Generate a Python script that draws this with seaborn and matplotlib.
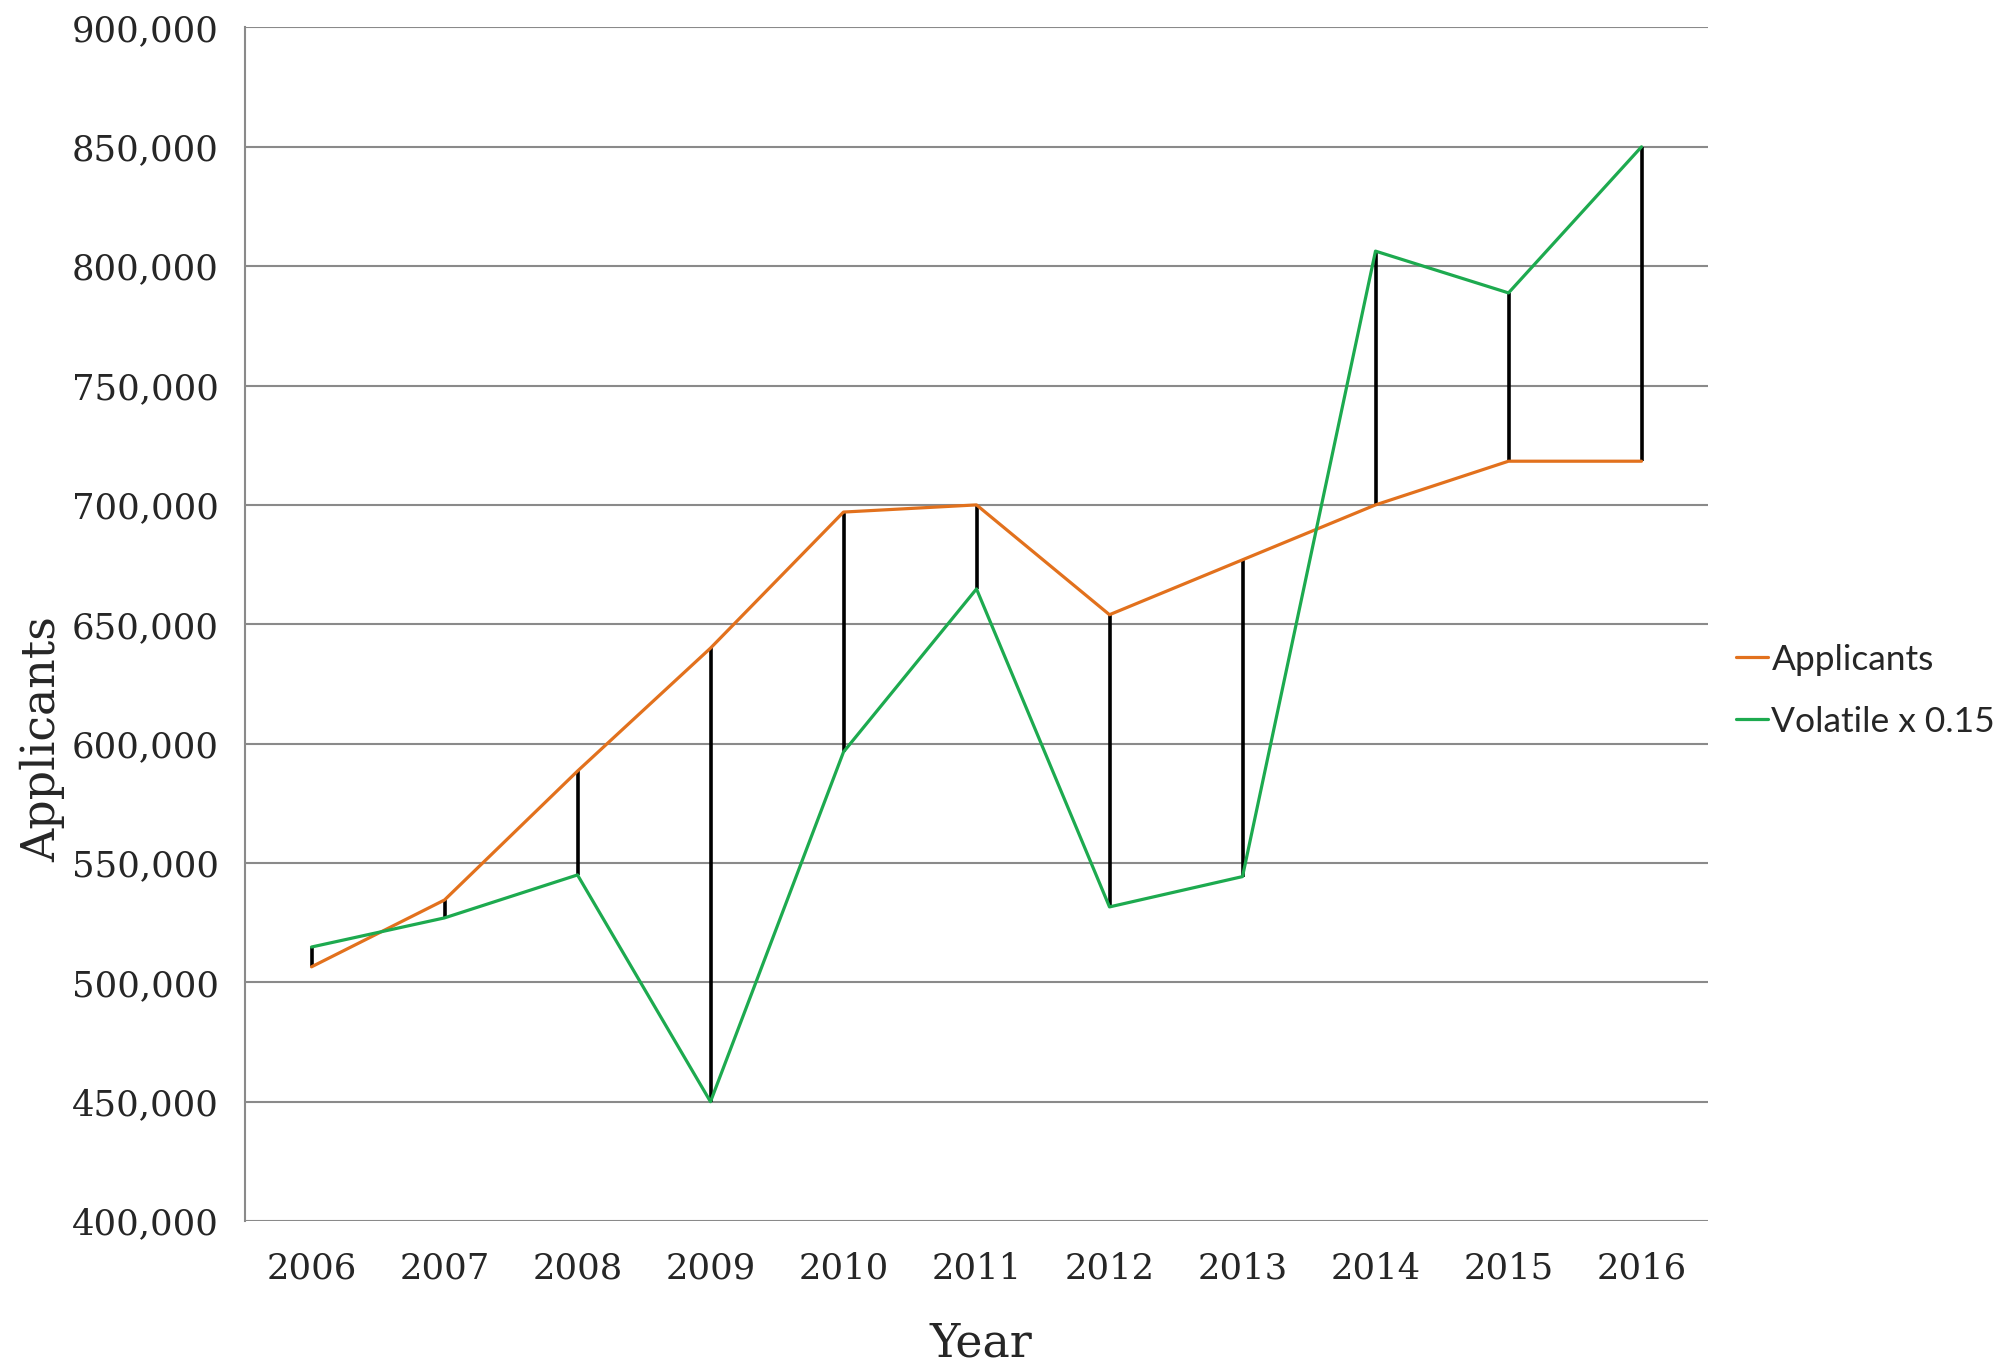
import numpy as np
import pandas as pd
import matplotlib
matplotlib.use("Agg")
import matplotlib.pyplot as plt
import seaborn as sns

years = [2006, 2007, 2008, 2009, 2010, 2011, 2012, 2013, 2014, 2015, 2016]
applicants = [506500, 534500, 588500, 640000, 697000, 700000, 654000, 677000, 700000, 718300, 718300]
volatile = [514800, 527000, 545000, 450000, 596500, 664800, 531600, 544300, 806300, 788800, 850000]
series_names = ["Applicants", "Volatile x 0.15"]
colors = ["#E2711D", "#1DAA4F"]
y_ticks = [400000, 450000, 500000, 550000, 600000, 650000, 700000, 750000, 800000, 850000, 900000]

df = pd.DataFrame({"Year": years * 2,
                   "Value": applicants + volatile,
                   "Series": [series_names[0]] * len(years) + [series_names[1]] * len(years)})

sns.set_style("white")
plt.rcParams["font.family"] = ["DejaVu Serif"]

fig = plt.figure(figsize=(20, 13.72), dpi=100)
ax = fig.add_axes([0.1225, 0.110, 0.7315, 0.870])

# high-low lines between the two series
ax.vlines(years, np.minimum(applicants, volatile), np.maximum(applicants, volatile),
          color="black", lw=2.6, zorder=2)

sns.lineplot(data=df, x="Year", y="Value", hue="Series", palette=colors,
             lw=2.3, ax=ax, legend=False, zorder=3)

ax.set_xlim(2005.5, 2016.5)
ax.set_ylim(400000, 900000)
ax.set_xticks(years)
ax.set_xticklabels([str(y) for y in years])
ax.set_yticks(y_ticks)
ax.set_yticklabels([f"{v:,}" for v in y_ticks])
ax.yaxis.grid(True, color="#8a8a8a", lw=1.5)
ax.set_axisbelow(True)

for s in ["top", "right", "bottom"]:
    ax.spines[s].set_visible(False)
ax.spines["left"].set_color("#8a8a8a")
ax.spines["left"].set_linewidth(1.5)

ax.tick_params(axis="y", length=7, width=1.5, color="#8a8a8a", pad=12, labelsize=25.5)
ax.tick_params(axis="x", length=0, pad=22, labelsize=25.5)

ax.set_xlabel("Year", fontsize=33)
ax.xaxis.set_label_coords(0.503, -0.084)
ax.set_ylabel("Applicants", fontsize=33)
ax.yaxis.set_label_coords(-0.123, 0.404)

handles = [plt.Line2D([], [], color=c, lw=2.3) for c in colors]
fig.legend(handles, series_names, loc="center left", bbox_to_anchor=(0.868, 0.4965),
           frameon=False, handlelength=0.9, handletextpad=0.1, labelspacing=0.85,
           borderpad=0, borderaxespad=0,
           prop={"family": ["Lato", "DejaVu Sans"], "size": 25.5})

fig.savefig("out.png", dpi=100)
